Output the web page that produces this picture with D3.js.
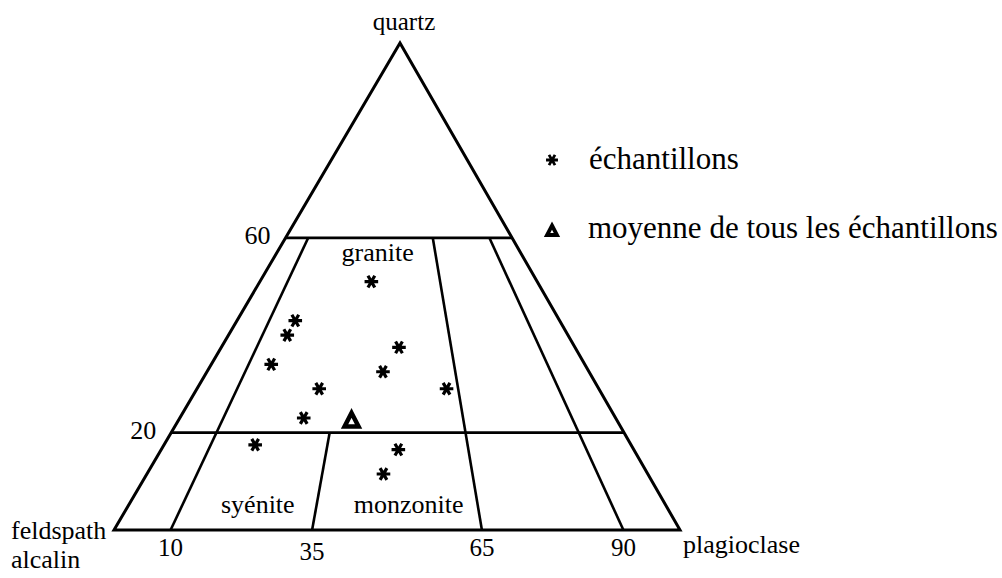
<!DOCTYPE html>
<html>
<head>
<meta charset="utf-8">
<script src="https://cdn.jsdelivr.net/npm/d3@7"></script>
<style>
  html, body { margin: 0; padding: 0; background: #fff; }
  svg { display: block; }
  text { font-family: "Liberation Serif", "Times New Roman", serif; fill: #000; }
</style>
</head>
<body>
<svg id="chart" width="1002" height="578"></svg>
<script>
// Quartz (Q) levels that bound the fields, in %
const quartzLevels = [60, 20];
// Plagioclase ratio P/(A+P) dividers, in %, and the quartz level each starts from
const ratioValues = [10, 35, 65, 90];
const ratioTop = [60, 20, 60, 60];
const ratioLabels = ["10", "35", "65", "90"];

// Samples: quartz and plagioclase content (%), alkali feldspar is the remainder
const sampleQ = [51, 43, 40, 37.5, 34, 32.5, 29, 29, 23, 17.5, 16.5, 11.5];
const sampleP = [19.7, 10.3, 10.4, 31.4, 10.6, 31.1, 21.6, 44.1, 21.9, 16.1, 41.9, 41.8];
const sampleA = sampleQ.map((q, i) => 100 - q - sampleP[i]);

// Mean of all samples
const meanQ = [22.7];
const meanP = [30.5];

// Field names, placed by quartz % and ratio %
const fieldNames = ["granite", "syénite", "monzonite"];
const fieldQ = [55.2, 3.5, 3.5];
const fieldRatio = [41.7, 24.5, 52.1];

const svg = d3.select("#chart");

// Triangle geometry: base (Q = 0) and apex (Q = 100)
const yScale = d3.scaleLinear().domain([0, 100]).range([530, 43]);
const leftEdge = d3.scaleLinear().domain([0, 100]).range([114, 400]);
const rightEdge = d3.scaleLinear().domain([0, 100]).range([680, 400]);

// Position from quartz % and ratio P/(A+P) in %
function project(q, ratio) {
  const across = d3.scaleLinear().domain([0, 100]).range([leftEdge(q), rightEdge(q)]);
  return [across(ratio), yScale(q)];
}
function projectQAP(q, a, p) {
  return project(q, (a + p) > 0 ? 100 * p / (a + p) : 50);
}

const g = svg.append("g");
const line = d3.line();

// Outer triangle
g.append("path")
  .attr("d", line([project(0, 0), project(100, 0), project(0, 100)]) + "Z")
  .attr("fill", "none").attr("stroke", "#000").attr("stroke-width", 3)
  .attr("stroke-linejoin", "miter");

// Horizontal quartz boundaries
g.selectAll(".qline").data(quartzLevels).join("path")
  .attr("class", "qline")
  .attr("d", q => line([project(q, 0), project(q, 100)]))
  .attr("fill", "none").attr("stroke", "#000").attr("stroke-width", 2.8);

// Ratio dividers
g.selectAll(".rline").data(ratioValues).join("path")
  .attr("class", "rline")
  .attr("d", (r, i) => line([project(ratioTop[i], r), project(0, r)]))
  .attr("fill", "none").attr("stroke", "#000").attr("stroke-width", 2.6);

// Quartz level labels
g.selectAll(".qlab").data(quartzLevels).join("text")
  .attr("class", "qlab")
  .attr("x", q => project(q, 0)[0] - 15)
  .attr("y", q => project(q, 0)[1] + 6)
  .attr("text-anchor", "end")
  .attr("font-size", 26)
  .text(q => q);

// Ratio labels along the base
g.selectAll(".rlab").data(ratioValues).join("text")
  .attr("class", "rlab")
  .attr("x", r => project(0, r)[0])
  .attr("y", (r, i) => project(0, r)[1] + (i === 1 ? 30 : 26))
  .attr("text-anchor", "middle")
  .attr("font-size", 25)
  .text((r, i) => ratioLabels[i]);

// Apex labels
g.append("text").attr("x", project(100, 0)[0] + 4).attr("y", 30)
  .attr("text-anchor", "middle").attr("font-size", 25).text("quartz");
g.append("text").attr("x", 11).attr("y", project(0, 0)[1] + 9)
  .attr("font-size", 26).text("feldspath");
g.append("text").attr("x", 11).attr("y", project(0, 0)[1] + 38)
  .attr("font-size", 26).text("alcalin");
g.append("text").attr("x", project(0, 100)[0] + 3).attr("y", project(0, 100)[1] + 23)
  .attr("font-size", 26).text("plagioclase");

// Field names
g.selectAll(".field").data(fieldNames).join("text")
  .attr("class", "field")
  .attr("x", (d, i) => project(fieldQ[i], fieldRatio[i])[0])
  .attr("y", (d, i) => project(fieldQ[i], fieldRatio[i])[1])
  .attr("text-anchor", "middle")
  .attr("font-size", 26)
  .text(d => d);

// Sample markers
const star = d3.symbol().type(d3.symbolAsterisk).size(130);
g.selectAll(".sample").data(sampleQ).join("path")
  .attr("class", "sample")
  .attr("transform", (q, i) => {
    const [x, y] = projectQAP(q, sampleA[i], sampleP[i]);
    return `translate(${x},${y}) rotate(90)`;
  })
  .attr("d", star)
  .attr("fill", "none").attr("stroke", "#000").attr("stroke-width", 3.2);

// Mean marker
const meanTri = "M0,-6.5L7,7L-7,7Z";
g.selectAll(".mean").data(meanQ).join("path")
  .attr("class", "mean")
  .attr("transform", (q, i) => {
    const [x, y] = projectQAP(q, 100 - q - meanP[i], meanP[i]);
    return `translate(${x},${y})`;
  })
  .attr("d", meanTri)
  .attr("fill", "#fff").attr("stroke", "#000").attr("stroke-width", 4.5)
  .attr("stroke-linejoin", "miter");

// Legend
const legend = svg.append("g");
legend.append("path")
  .attr("transform", "translate(552,160) rotate(90)")
  .attr("d", d3.symbol().type(d3.symbolAsterisk).size(100))
  .attr("fill", "none").attr("stroke", "#000").attr("stroke-width", 2.8);
legend.append("text").attr("x", 589).attr("y", 169).attr("font-size", 31).text("échantillons");
legend.append("path")
  .attr("transform", "translate(552,230)")
  .attr("d", "M0,-4.5L5,5L-5,5Z")
  .attr("fill", "#fff").attr("stroke", "#000").attr("stroke-width", 3.8);
legend.append("text").attr("x", 588).attr("y", 238).attr("font-size", 31).text("moyenne de tous les échantillons");
</script>
</body>
</html>
